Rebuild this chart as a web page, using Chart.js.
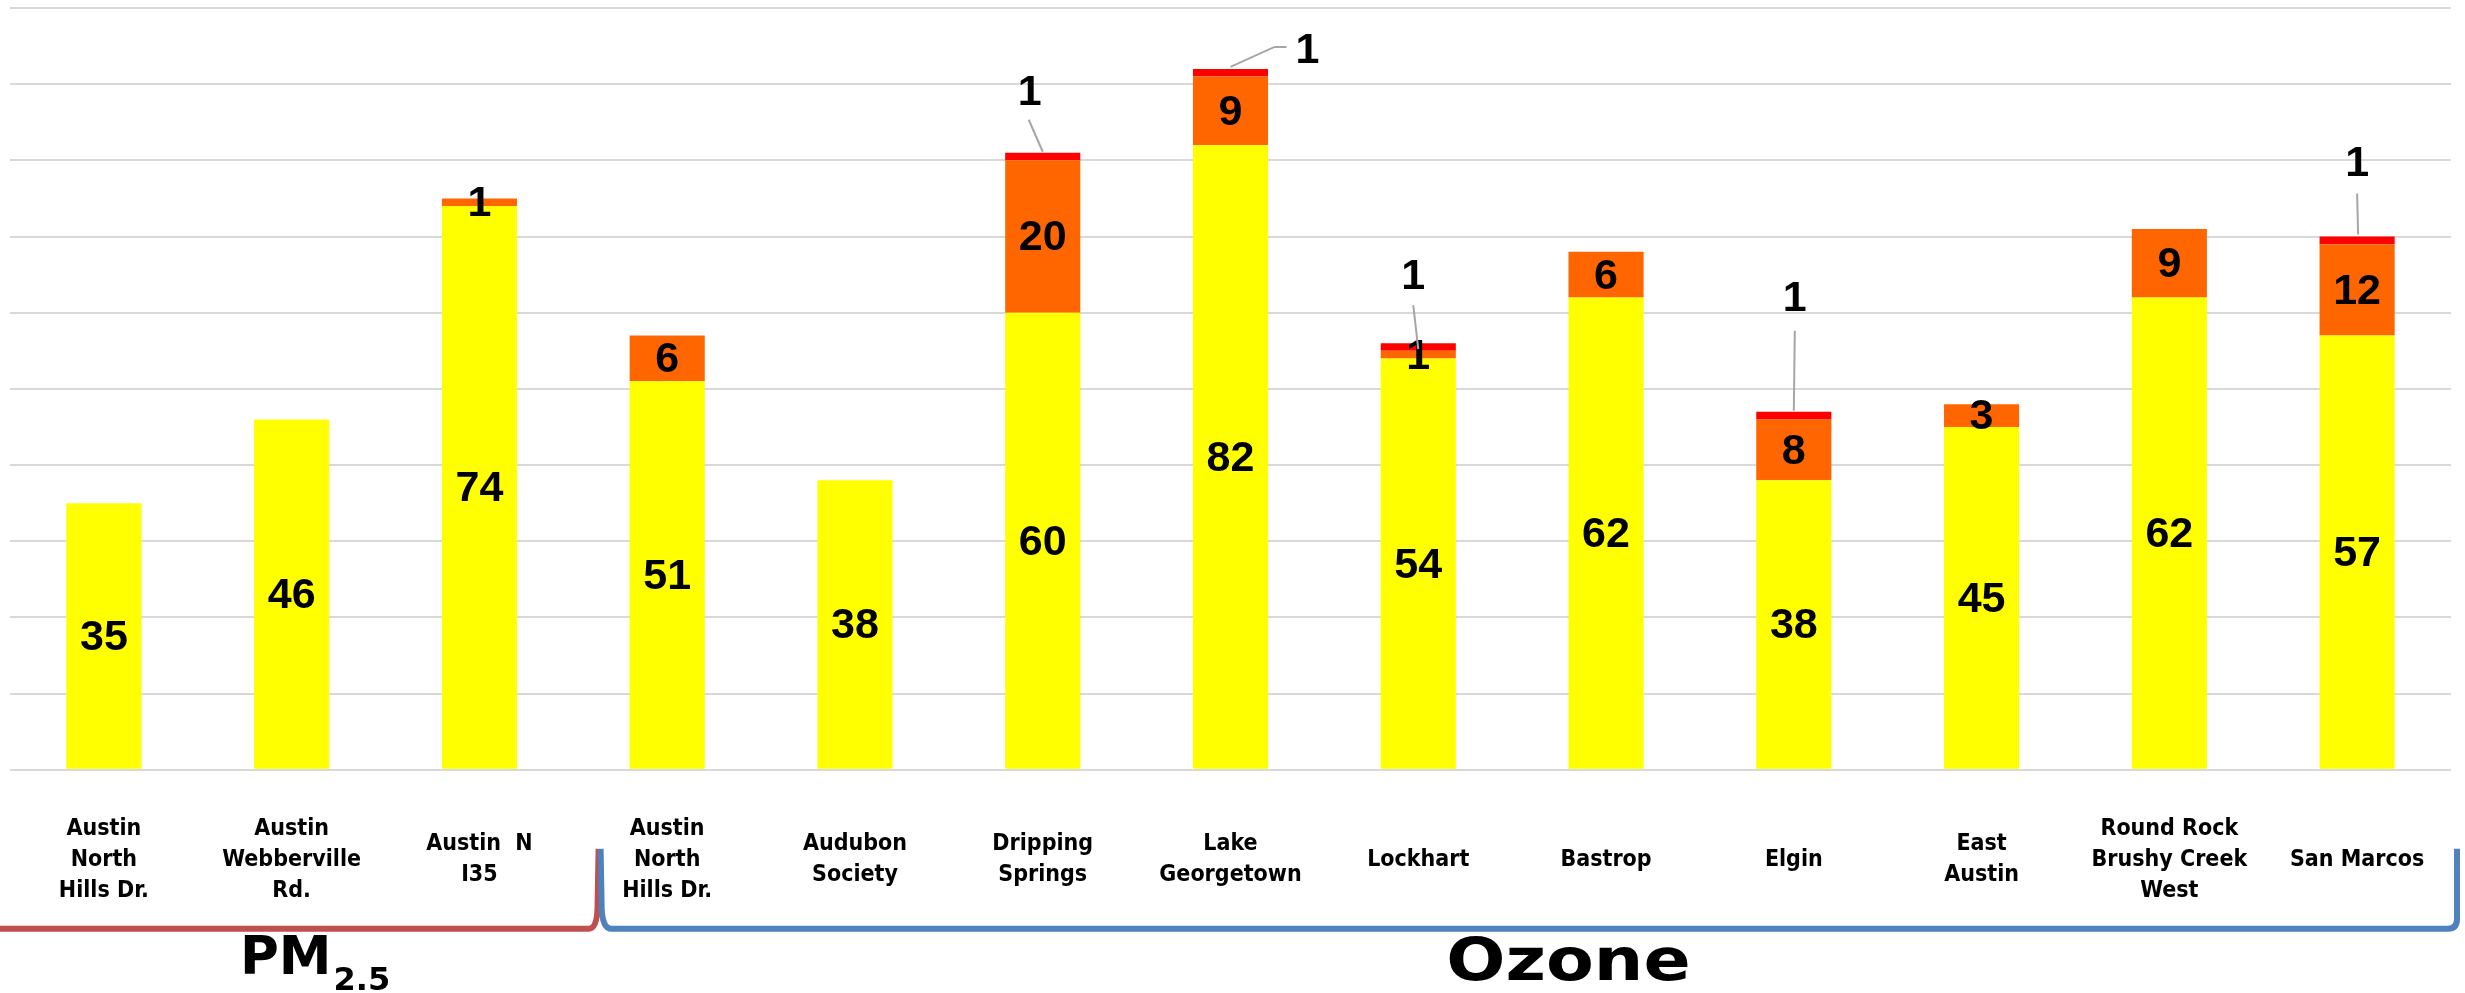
<!DOCTYPE html>
<html>
<head>
<meta charset="utf-8">
<script src="https://cdn.jsdelivr.net/npm/chart.js@4/dist/chart.umd.min.js"></script>
<style>
  html, body { margin: 0; padding: 0; background: #fff; }
  #wrap { width: 2465px; height: 993px; }
</style>
</head>
<body>
<div id="wrap"><canvas id="aqiChart"></canvas></div>
<script>
// site names (multi-line, as on the slide)
var siteLabels = [
    ["Austin", "North", "Hills Dr."],
    ["Austin", "Webberville", "Rd."],
    ["Austin  N", "I35"],
    ["Austin", "North", "Hills Dr."],
    ["Audubon", "Society"],
    ["Dripping", "Springs"],
    ["Lake", "Georgetown"],
    ["Lockhart"],
    ["Bastrop"],
    ["Elgin"],
    ["East", "Austin"],
    ["Round Rock", "Brushy Creek", "West"],
    ["San Marcos"]
];
// days per AQI level
var moderateDays  = [35, 46, 74, 51, 38, 60, 82, 54, 62, 38, 45, 62, 57];
var usgDays       = [0, 0, 1, 6, 0, 20, 9, 1, 6, 8, 3, 9, 12];
var unhealthyDays = [0, 0, 0, 0, 0, 1, 1, 1, 0, 1, 0, 0, 1];
var yMax = 100;
var yStep = 10;

//red labels are moved off the bar with a leader line (dx, dy from bar top centre)
var redLabelMoves = {
    5:  {dx: -13, dy: -62, lead: [[-14, -33], [0, -1]]},
    6:  {dx: 77,  dy: -20, lead: [[0, -2], [44, -22], [56, -22]]},
    7:  {dx: -5,  dy: -68, lead: [[-5, -38], [0, 6]]},
    9:  {dx: 1,   dy: -115, lead: [[1, -81], [0, -1]]},
    12: {dx: 0,   dy: -74, lead: [[0, -43], [1, -2]]}
};

var labelFont = "bold 43px 'Liberation Sans', Arial, sans-serif";

var barLabels = {
    id: "barLabels",
    afterDatasetsDraw: function(chart){
        var ctx = chart.ctx;
        ctx.save();
        ctx.font = labelFont;
        ctx.fillStyle = "#000";
        ctx.textAlign = "center";
        ctx.textBaseline = "middle";
        chart.data.datasets.forEach(function(ds, d){
            var meta = chart.getDatasetMeta(d);
            meta.data.forEach(function(bar, i){
                var v = ds.data[i];
                if (!v) return;
                if (d == 2 && redLabelMoves[i]){
                    var m = redLabelMoves[i];
                    ctx.strokeStyle = "#a6a6a6";
                    ctx.lineWidth = 2;
                    ctx.beginPath();
                    ctx.moveTo(bar.x + m.lead[0][0], bar.y + m.lead[0][1]);
                    for (let k = 1; k < m.lead.length; k++){
                        ctx.lineTo(bar.x + m.lead[k][0], bar.y + m.lead[k][1]);
                    }
                    ctx.stroke();
                    ctx.fillText(String(v), bar.x + m.dx, bar.y + m.dy + 2);
                } else {
                    ctx.fillText(String(v), bar.x, (bar.y + bar.base) / 2 + 2);
                }
            });
        });
        ctx.restore();
    }
};

// the PM2.5 / Ozone brackets under the site names
var groupBrackets = {
    id: "groupBrackets",
    afterDraw: function(chart){
        var ctx = chart.ctx;
        var xs = chart.scales.x;
        var area = chart.chartArea;
        var lineY = area.bottom + 159;
        var topY = area.bottom + 79;
        var split = xs.getPixelForValue(2.64);
        var right = area.right + 6;
        ctx.save();
        ctx.lineWidth = 6;
        ctx.lineCap = "butt";
        ctx.lineJoin = "round";
        ctx.strokeStyle = "#c0504d";
        ctx.beginPath();
        ctx.moveTo(0, lineY);
        ctx.lineTo(split - 11, lineY);
        ctx.quadraticCurveTo(split - 2, lineY, split - 2, lineY - 25);
        ctx.lineTo(split - 1, topY);
        ctx.stroke();
        ctx.strokeStyle = "#4f81bd";
        ctx.beginPath();
        ctx.moveTo(split + 1, topY);
        ctx.lineTo(split + 2, lineY - 25);
        ctx.quadraticCurveTo(split + 2, lineY, split + 12, lineY);
        ctx.lineTo(right - 9, lineY);
        ctx.quadraticCurveTo(right, lineY, right, lineY - 10);
        ctx.lineTo(right, topY);
        ctx.stroke();

        ctx.fillStyle = "#000";
        ctx.textBaseline = "alphabetic";
        ctx.textAlign = "left";
        ctx.font = "bold 53px 'DejaVu Sans', sans-serif";
        var pmX = 240;
        ctx.fillText("PM", pmX, area.bottom + 204);
        var pmW = ctx.measureText("PM").width;
        ctx.font = "bold 32px 'DejaVu Sans', sans-serif";
        ctx.fillText("2.5", pmX + pmW + 2, area.bottom + 220);
        // Ozone is set wider on the slide
        ctx.font = "bold 58px 'DejaVu Sans', sans-serif";
        ctx.textAlign = "center";
        ctx.translate(xs.getPixelForValue(7.8), area.bottom + 210);
        ctx.scale(1.2, 1);
        ctx.fillText("Ozone", 0, 0);
        ctx.restore();
    }
};

function init(){
    new Chart("aqiChart", {
        type: "bar",
        data: {
            labels: siteLabels,
            datasets: [
                {label: "Moderate", data: moderateDays, backgroundColor: "#ffff00"},
                {label: "Unhealthy for Sensitive Groups", data: usgDays, backgroundColor: "#ff6600"},
                {label: "Unhealthy", data: unhealthyDays, backgroundColor: "#ff0000"}
            ]
        },
        options: {
            responsive: true,
            maintainAspectRatio: false,
            animation: false,
            layout: {padding: {left: 10, right: 14, top: 8, bottom: 65}},
            datasets: {bar: {barPercentage: 0.4, categoryPercentage: 1}},
            plugins: {
                legend: {display: false},
                title: {display: false},
                tooltip: {enabled: false}
            },
            scales: {
                x: {
                    stacked: true,
                    // invisible tick marks just push the site names down
                    grid: {display: true, drawOnChartArea: false, drawTicks: true, tickLength: 53, color: "rgba(0,0,0,0)"},
                    border: {display: false},
                    ticks: {
                        color: "#000",
                        maxRotation: 0,
                        minRotation: 0,
                        autoSkip: false,
                        padding: 6,
                        crossAlign: "center",
                        font: {family: "'Liberation Sans Narrow', 'DejaVu Sans Condensed', sans-serif", size: 23, weight: "bold", lineHeight: 1.35}
                    }
                },
                y: {
                    stacked: true,
                    min: 0,
                    max: yMax,
                    ticks: {display: false, stepSize: yStep},
                    grid: {color: "#d9d9d9", lineWidth: 2, drawTicks: false},
                    border: {display: false}
                }
            }
        },
        plugins: [barLabels, groupBrackets]
    });
}
window.onload = init;
</script>
</body>
</html>
